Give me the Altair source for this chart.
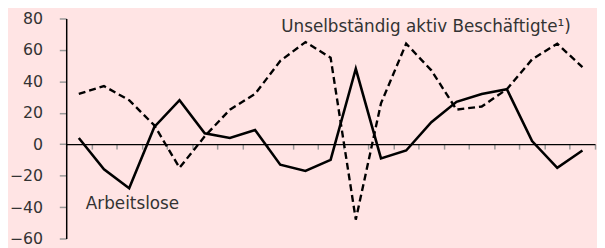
import altair as alt
import pandas as pd

arbeitslose = [4, -16, -28, 11, 28, 7, 4, 9, -13, -17, -10, 48, -9, -4, 14, 27, 32, 35, 2, -15, -4]
beschaeftigte = [32, 37, 28, 12, -15, 5, 22, 32, 53, 65, 55, -48, 26, 64, 47, 22, 24, 35, 54, 64, 49]
y_ticks = [-60, -40, -20, 0, 20, 40, 60, 80]
labels = ["Arbeitslose", "Unselbständig aktiv Beschäftigte¹)"]
label_x = [0.78, 8.54]
label_y = [-41, 71.5]

n = len(arbeitslose)
df = pd.DataFrame({
    "x": [i + 0.5 for i in range(n)] * 2,
    "y": arbeitslose + beschaeftigte,
    "series": ["A"] * n + ["B"] * n,
})
lab = pd.DataFrame({"x": label_x, "y": label_y, "t": labels})

FONT = "DejaVu Sans"
xscale = alt.Scale(domain=[0, n], nice=False, zero=False)
yscale = alt.Scale(domain=[-60, 80], nice=False)

xaxis = alt.Axis(values=list(range(n + 1)), labels=False, title=None, grid=False,
                 tickColor="#999999", tickSize=5, tickWidth=1.5, domainColor="#000000",
                 domainWidth=1.2, offset=-95.6)
yaxis = alt.Axis(values=y_ticks, title=None, grid=False, tickColor="#999999", tickSize=7,
                 tickWidth=1.5, domainColor="#000000", domainWidth=1.5, labelPadding=17,
                 labelFont=FONT, labelFontSize=16, labelColor="#333333",
                 labelOverlap=False, labelBound=False)

X = alt.X("x:Q", scale=xscale, axis=xaxis)
Y = alt.Y("y:Q", scale=yscale, axis=yaxis)

base = alt.Chart(df)
solid = base.transform_filter(alt.datum.series == "A").mark_line(
    color="black", strokeWidth=2.6
).encode(x=X, y=Y)
dashed = base.transform_filter(alt.datum.series == "B").mark_line(
    color="black", strokeWidth=2.4, strokeDash=[7, 4]
).encode(x=X, y=Y)
text = alt.Chart(lab).mark_text(
    align="left", baseline="alphabetic", font=FONT, fontSize=17, color="#333333"
).encode(x=X, y=Y, text="t:N")

chart = alt.layer(solid, dashed, text).properties(
    width=536, height=223, background="#ffe4e4",
    autosize=alt.AutoSizeParams(type="none"),
    padding={"left": 59, "top": 9, "right": 2, "bottom": 9},
).configure_view(stroke=None)

chart.save("out.html", embed_options={"renderer": "svg", "actions": False})
